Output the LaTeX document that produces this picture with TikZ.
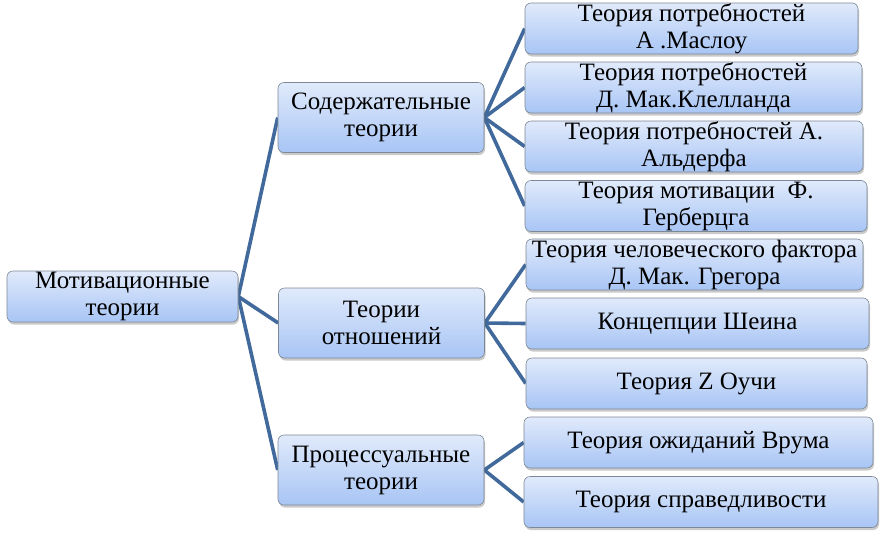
\documentclass[tikz,border=0pt]{standalone}
\usepackage{fontspec}
\setmainfont{Liberation Serif}
\newfontfamily\tnr{Liberation Serif}
\usetikzlibrary{shadows,backgrounds}
\definecolor{boxtop}{HTML}{E0EAFB}
\definecolor{boxbot}{HTML}{A8C5F5}
\definecolor{boxline}{HTML}{7D8896}
\definecolor{conn}{HTML}{41699B}
\tikzset{
  boxbase/.style={draw=boxline, line width=0.6pt, rounded corners=6pt,
    top color=boxtop, bottom color=boxbot, inner sep=0pt, align=center,
    font=\tnr\fontsize{25}{27}\selectfont,
    drop shadow={shadow xshift=1pt, shadow yshift=-2.5pt, opacity=0.35, fill=black!60}},
  lvlone/.style={boxbase, minimum width=231pt, minimum height=51pt},
  lvltwo/.style={boxbase, minimum width=206pt, minimum height=70pt},
  leaf/.style={boxbase, minimum height=51pt},
  link/.style={draw=conn, line width=3.6pt}
}
\begin{document}
\begin{tikzpicture}[x=1pt,y=-1pt]
\useasboundingbox (0,0) rectangle (885,536);
\node[lvlone] (root) at (122.5,296.5) {Мотивационные\\теории};
\node[lvltwo] (a) at (381,117.5) {Содержательные\\теории};
\node[lvltwo] (b) at (381.5,323) {Теории\\отношений};
\node[lvltwo] (c) at (381,470) {Процессуальные\\теории};
\node[leaf, minimum width=333pt] (a1) at (691.5,28.5) {Теория потребностей\\А .Маслоу};
\node[leaf, minimum width=337pt] (a2) at (693.5,87.5) {Теория потребностей\\Д. Мак.Клелланда};
\node[leaf, minimum width=338pt] (a3) at (694,146.5) {Теория потребностей А.\\Альдерфа};
\node[leaf, minimum width=342pt] (a4) at (696,206) {Теория мотивации\ \ Ф.\\Герберцга};
\node[leaf, minimum width=337pt] (b1) at (694.5,264.5) {Теория человеческого фактора\\Д. Мак. Грегора};
\node[leaf, minimum width=343pt] (b2) at (697.5,323.5) {Концепции Шеина};
\node[leaf, minimum width=341pt] (b3) at (696.5,383.5) {Теория Z Оучи};
\node[leaf, minimum width=349pt] (c1) at (698.5,442.5) {Теория ожиданий Врума};
\node[leaf, minimum width=354pt] (c2) at (701,502) {Теория справедливости};
\begin{scope}[on background layer]
\foreach \t in {a,b,c} \draw[link] (root.east) -- (\t.west);
\foreach \t in {a1,a2,a3,a4} \draw[link] (a.east) -- (\t.west);
\foreach \t in {b1,b2,b3} \draw[link] (b.east) -- (\t.west);
\foreach \t in {c1,c2} \draw[link] (c.east) -- (\t.west);
\end{scope}
\end{tikzpicture}
\end{document}
